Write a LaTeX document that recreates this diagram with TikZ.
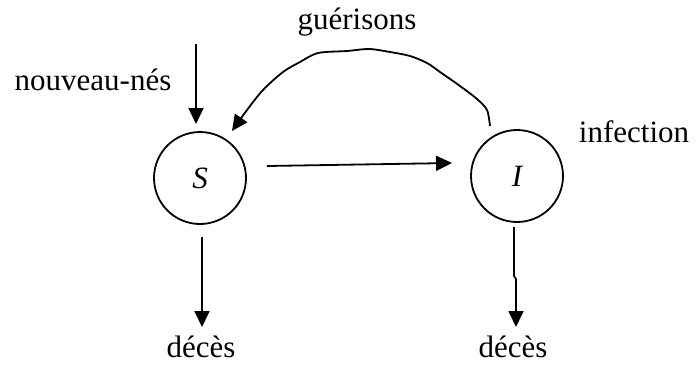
\documentclass[tikz,border=0pt]{standalone}
\usepackage{fontspec}
\setmainfont{Liberation Serif}
\usetikzlibrary{arrows.meta}
\begin{document}
\begin{tikzpicture}[x=1pt,y=-1pt,
  lbl/.style={font=\fontsize{31}{36}\selectfont, inner sep=0pt},
  state/.style={circle, draw, line width=1.8pt, minimum size=92pt, inner sep=0pt, font=\fontsize{31}{36}\selectfont\itshape},
  flow/.style={line width=1.8pt, -{Triangle[length=16pt,width=15pt]}}]
\useasboundingbox (0,0) rectangle (697,365);
\node[state] (S) at (200,178) {S};
\node[state] (I) at (517,176) {I};
\node[lbl] (nn) at (93,80) {nouveau-nés};
\node[lbl] (gu) at (357,22) {guérisons};
\node[lbl] (inf) at (634,132) {infection};
\node[lbl] (d1) at (201,347) {décès};
\node[lbl] (d2) at (513,347) {décès};
\coordinate (nntop) at (196,44);
\coordinate (nnend) at (196,124);
\draw[flow] (nntop) -- (nnend);
\coordinate (si1) at (267,166);
\coordinate (si2) at (452,163);
\draw[flow] (si1) -- (si2);
\coordinate (sd1) at (202,237);
\coordinate (sd2) at (202,327);
\draw[flow] (sd1) -- (sd2);
\coordinate (id1) at (514,227);
\coordinate (id2) at (516,327);
\draw[flow] (id1) -- (514,276) -- (516,279) -- (id2);
\coordinate (g0) at (490,126);
\coordinate (g1) at (232,131);
\draw[flow] plot[smooth, tension=0.5] coordinates {(g0) (487,110) (477,99) (460,86) (440,72) (427,63) (410,56) (390,52) (369,49) (347,51) (318,53) (300,62) (283,72) (263,90) (247,110) (g1)};
\end{tikzpicture}
\end{document}
